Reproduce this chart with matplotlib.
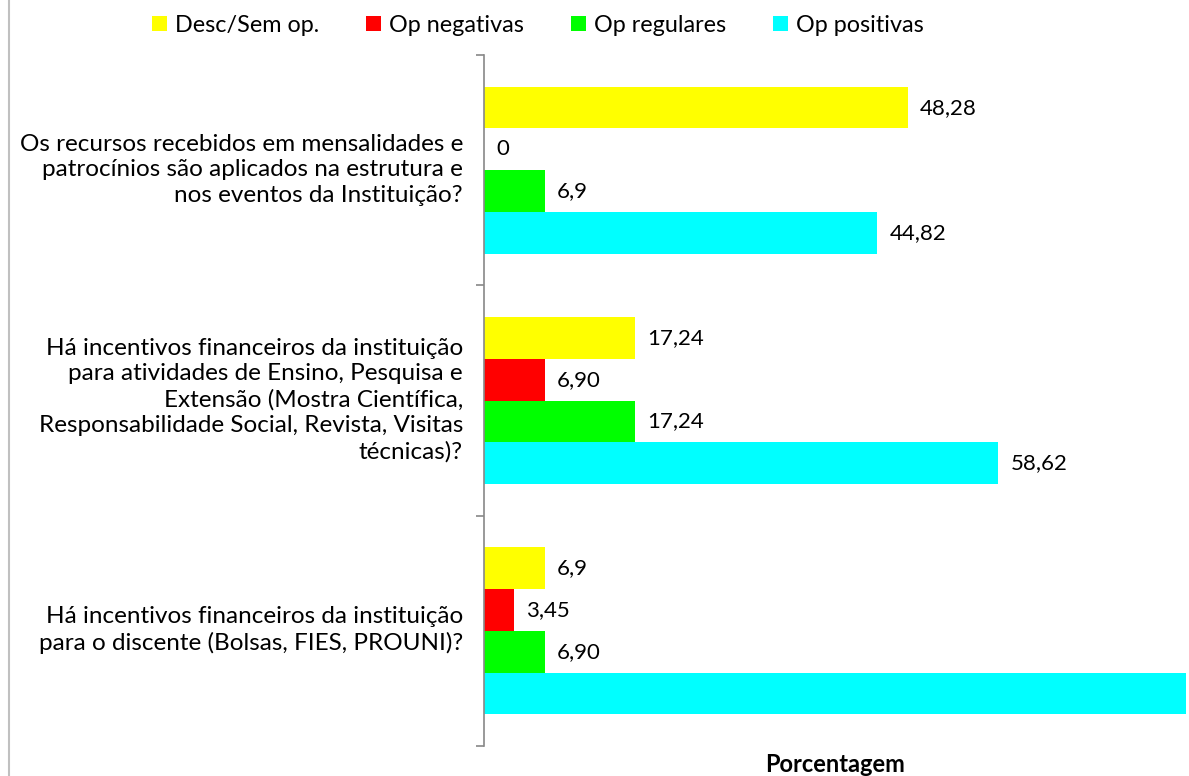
import matplotlib.pyplot as plt
from matplotlib.lines import Line2D
from matplotlib.patches import Patch

questions = [
    "Os recursos recebidos em mensalidades e\npatrocínios são aplicados na estrutura e\nnos eventos da Instituição?",
    "Há incentivos financeiros da instituição\npara atividades de Ensino, Pesquisa e\nExtensão (Mostra Científica,\nResponsabilidade Social, Revista, Visitas\ntécnicas)?",
    "Há incentivos financeiros da instituição\npara o discente (Bolsas, FIES, PROUNI)?",
]
series = ["Desc/Sem op.", "Op negativas", "Op regulares", "Op positivas"]
desc = [48.28, 17.24, 6.9]
neg = [0, 6.90, 3.45]
reg = [6.9, 17.24, 6.90]
pos = [44.82, 58.62, 82.76]
desc_lbl = ["48,28", "17,24", "6,9"]
neg_lbl = ["0", "6,90", "3,45"]
reg_lbl = ["6,9", "17,24", "6,90"]
pos_lbl = ["44,82", "58,62", "82,76"]

colors = ["#FFFF00", "#FF0000", "#00FF00", "#00FFFF"]
plt.rcParams["font.family"] = ["Lato", "DejaVu Sans"]

W, H = 1189, 776
fig = plt.figure(figsize=(W / 100, H / 100), dpi=100)
ax = fig.add_axes([484 / W, 1 - 746 / H, 702 / W, 691 / H])

h = 0.181
values = [desc, neg, reg, pos]
labels = [desc_lbl, neg_lbl, reg_lbl, pos_lbl]
for j in range(4):
    ys = [i + 0.5 + (j - 1.5) * h for i in range(3)]
    ax.barh(ys, values[j], height=h, color=colors[j], label=series[j])
    for y, v, s in zip(ys, values[j], labels[j]):
        ax.annotate(s, (v, y), xytext=(12, 0), textcoords="offset pixels",
                    ha="left", va="center", fontsize=16, color="black")

ax.set_xlim(0, 80)
ax.set_ylim(3, 0)
ax.set_yticks([0, 1, 2, 3])
ax.set_yticklabels([])
ax.set_xticks([])
ax.tick_params(axis="y", direction="out", length=6, color="#888888", width=1.2)
for s in ["top", "right", "bottom"]:
    ax.spines[s].set_visible(False)
ax.spines["left"].set_color("#888888")
ax.spines["left"].set_linewidth(1.2)

for i, q in enumerate(questions):
    fig.text(463 / W, 1 - (170 + 230 * i) / H, q, ha="right", va="center",
             multialignment="right", fontsize=17.5, linespacing=1.27)

fig.text(835 / W, 1 - 764 / H, "Porcentagem", ha="center", va="center",
         fontsize=17, fontweight="bold")

handles = [Patch(facecolor=c, edgecolor="none") for c in colors]
fig.legend(handles, series, loc="center", bbox_to_anchor=(538 / W, 1 - 25 / H),
           ncol=4, frameon=False, fontsize=16.8, handlelength=0.65, handleheight=0.65,
           handletextpad=0.35, columnspacing=2.0)

fig.add_artist(Line2D([9 / W, 9 / W], [0, 1], color="#c0c0c0", linewidth=1.5))

fig.savefig("out.png", dpi=100)
